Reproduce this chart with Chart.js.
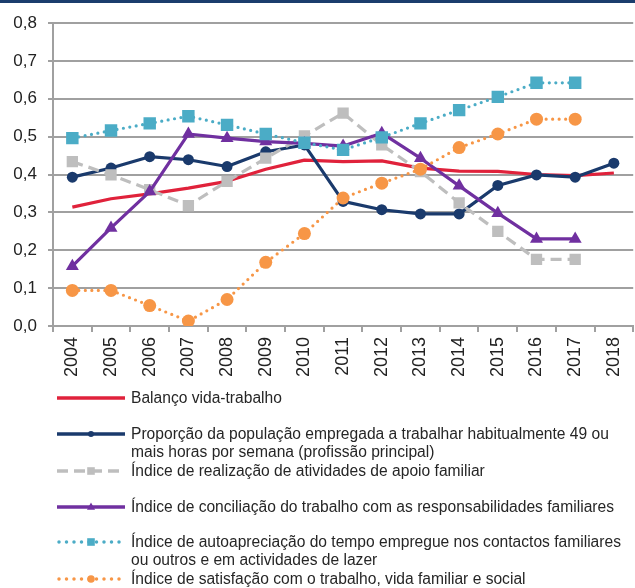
<!DOCTYPE html>
<html>
<head>
<meta charset="utf-8">
<script src="https://cdn.jsdelivr.net/npm/chart.js@4/dist/chart.umd.min.js"></script>
<style>
html,body{margin:0;padding:0;background:#fff;overflow:hidden;width:635px;height:588px;}
#wrap{position:absolute;left:0;top:0;width:642px;height:588px;}
</style>
</head>
<body>
<div id="wrap"><canvas id="c" width="642" height="588"></canvas></div>
<script>
const years = ['2004','2005','2006','2007','2008','2009','2010','2011','2012','2013','2014','2015','2016','2017','2018'];
const balanco = [0.314, 0.336, 0.349, 0.364, 0.382, 0.414, 0.438, 0.434, 0.436, 0.417, 0.409, 0.408, 0.400, 0.397, 0.404];
const proporcao = [0.393, 0.417, 0.447, 0.439, 0.421, 0.460, 0.478, 0.329, 0.307, 0.296, 0.296, 0.371, 0.399, 0.393, 0.430];
const apoio = [0.434, 0.399, 0.360, 0.318, 0.382, 0.443, 0.502, 0.562, 0.478, 0.408, 0.325, 0.250, 0.176, 0.176, null];
const conciliacao = [0.158, 0.259, 0.355, 0.507, 0.496, 0.487, 0.482, 0.475, 0.509, 0.443, 0.370, 0.298, 0.230, 0.230, null];
const autoapreciacao = [0.496, 0.516, 0.535, 0.554, 0.531, 0.507, 0.484, 0.465, 0.498, 0.535, 0.570, 0.605, 0.642, 0.642, null];
const satisfacao = [0.094, 0.094, 0.054, 0.013, 0.070, 0.168, 0.244, 0.338, 0.377, 0.414, 0.471, 0.507, 0.546, 0.546, null];
const labels = [
  'Balanço vida-trabalho',
  'Proporção da população empregada a trabalhar habitualmente 49 ou mais horas por semana (profissão principal)',
  'Índice de realização de atividades de apoio familiar',
  'Índice de conciliação do trabalho com as responsabilidades familiares',
  'Índice de autoapreciação do tempo empregue nos contactos familiares ou outros e em actividades de lazer',
  'Índice de satisfação com o trabalho, vida familiar e social'
];
const yTicks = [0, 0.1, 0.2, 0.3, 0.4, 0.5, 0.6, 0.7, 0.8];

const FONT = '"Liberation Sans", Arial, sans-serif';
const styles = [
  {c:'#E0223B', dash:[], cap:'butt', pt:'circle', r:0, lr:0},
  {c:'#1A3A6C', dash:[], cap:'butt', pt:'circle', r:5.5, lr:3},
  {c:'#BEBEBE', dash:[11,6], cap:'butt', pt:'rect', r:8, lr:3.8},
  {c:'#7030A0', dash:[], cap:'butt', pt:'triangle', r:7.5, lr:4.5},
  {c:'#4BACC6', dash:[0,6.5], cap:'round', pt:'rect', r:8.8, lr:3.8},
  {c:'#F79646', dash:[0,6.5], cap:'round', pt:'circle', r:6.5, lr:3.8}
];
const series = [balanco, proporcao, apoio, conciliacao, autoapreciacao, satisfacao];

const datasets = series.map((d,i)=>({
  label: labels[i],
  data: d,
  borderColor: styles[i].c,
  backgroundColor: styles[i].c,
  borderWidth: 3.2,
  borderDash: styles[i].dash,
  borderCapStyle: styles[i].cap,
  borderJoinStyle: 'round',
  pointStyle: styles[i].pt,
  pointRadius: styles[i].r,
  pointHoverRadius: styles[i].r,
  pointBorderWidth: 0,
  pointBackgroundColor: styles[i].c,
  tension: 0,
  spanGaps: false,
  order: 6 - i
}));

function drawMarker(ctx, style, x, y, r, color){
  ctx.save();
  ctx.fillStyle = color;
  ctx.beginPath();
  if (style === 'circle') {
    ctx.arc(x, y, r, 0, Math.PI*2);
  } else if (style === 'rect') {
    ctx.rect(x - r, y - r, 2*r, 2*r);
  } else if (style === 'triangle') {
    ctx.moveTo(x, y - r);
    ctx.lineTo(x + r*0.9, y + r*0.6);
    ctx.lineTo(x - r*0.9, y + r*0.6);
    ctx.closePath();
  }
  ctx.fill();
  ctx.restore();
}

const legendPlugin = {
  id: 'customLegend',
  beforeDraw(chart){
    const ctx = chart.ctx;
    ctx.save();
    ctx.fillStyle = '#1B3D6D';
    ctx.fillRect(0, 0, chart.width, 3);
    ctx.restore();
  },
  afterDraw(chart){
    const ctx = chart.ctx;
    const ys = [398, 434, 471, 507, 542, 579];
    const x0 = 57, x1 = 125, xm = 91, tx = 131, lineH = 18, maxW = 495;
    ctx.save();
    ctx.font = '16px ' + FONT;
    const refW = ctx.measureText(labels[3]).width;
    const sx = 483 / refW;
    chart.data.datasets.forEach((ds, i) => {
      const st = styles[i];
      const y = ys[i];
      ctx.save();
      ctx.strokeStyle = st.c;
      ctx.lineWidth = 3.5;
      ctx.lineCap = st.cap;
      ctx.setLineDash(st.dash.length ? (st.cap==='round' ? [0,7.5] : [11,6]) : []);
      ctx.beginPath();
      ctx.moveTo(x0 + (st.cap==='round'?2:0), y);
      ctx.lineTo(x1, y);
      ctx.stroke();
      ctx.restore();
      if (st.lr > 0) drawMarker(ctx, st.pt, xm, y, st.lr, st.c);
      const words = ds.label.split(' ');
      const lines = [];
      let cur = '';
      words.forEach(w => {
        const t = cur ? cur + ' ' + w : w;
        if (ctx.measureText(t).width * sx > maxW && cur) { lines.push(cur); cur = w; }
        else cur = t;
      });
      if (cur) lines.push(cur);
      ctx.fillStyle = '#262626';
      ctx.textBaseline = 'middle';
      ctx.textAlign = 'left';
      lines.forEach((ln, k) => {
        ctx.save();
        ctx.translate(tx, y + k*lineH + 1);
        ctx.scale(sx, 1);
        ctx.fillText(ln, 0, 0);
        ctx.restore();
      });
    });
    ctx.restore();
  }
};

new Chart(document.getElementById('c'), {
  type: 'line',
  data: { labels: years, datasets },
  plugins: [legendPlugin],
  options: {
    responsive: false,
    animation: false,
    devicePixelRatio: 1,
    layout: { padding: { top: 23, left: 0, right: 0, bottom: 200 } },
    plugins: { legend: { display: false }, tooltip: { enabled: false } },
    scales: {
      x: {
        type: 'category',
        offset: true,
        afterFit(scale){ scale.height = 62; },
        grid: { display: true, offset: true, drawOnChartArea: false, drawTicks: true, tickLength: 6, color: '#A0A0A0', lineWidth: 2 },
        border: { display: true, color: '#A0A0A0', width: 2 },
        ticks: { minRotation: 90, maxRotation: 90, autoSkip: false, padding: 5, color: '#222', font: { family: FONT, size: 18 } }
      },
      y: {
        min: 0, max: 0.8,
        afterFit(scale){ scale.width = 53; },
        afterBuildTicks(scale){ scale.ticks = yTicks.map(v => ({ value: v })); },
        grid: { display: true, color: '#A0A0A0', lineWidth: 2, drawTicks: true, tickLength: 5 },
        border: { display: true, color: '#A0A0A0', width: 2 },
        ticks: { padding: 11, color: '#222', font: { family: FONT, size: 17 },
          callback: (v) => Number(v).toFixed(1).replace('.', ',') }
      }
    }
  }
});
</script>
</body>
</html>
